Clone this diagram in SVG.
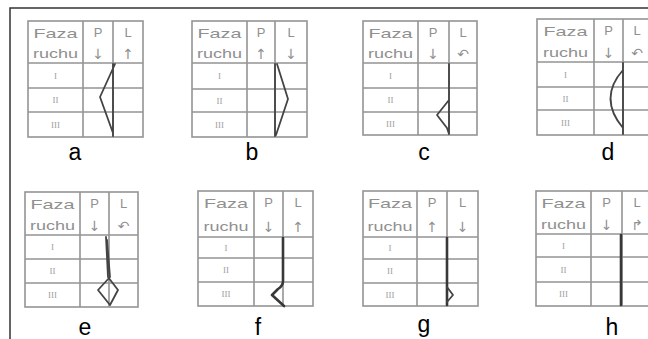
<svg xmlns="http://www.w3.org/2000/svg" width="648" height="339" viewBox="0 0 648 339">
<style>
.grid{fill:none;stroke:#949494;stroke-width:1.6}
.hd{font-family:"Liberation Sans",Arial,sans-serif;font-size:13px;fill:#909090;text-anchor:middle}
.ar{font-family:"DejaVu Sans",sans-serif;font-size:14px;fill:#909090;text-anchor:middle}
.rn{font-family:"Liberation Serif",serif;font-size:9px;fill:#a0a0a0;text-anchor:middle}
.lb{font-family:"Liberation Sans",Arial,sans-serif;font-size:23px;fill:#000;text-anchor:middle}
.tr{fill:none;stroke:#444;stroke-width:1.8;stroke-linejoin:round;stroke-linecap:round}
.trk{fill:none;stroke:#383838;stroke-width:2.6;stroke-linejoin:round;stroke-linecap:round}
</style>
<rect x="0" y="0" width="648" height="339" fill="#fff"/>
<g id="frame"><path d="M10,339 L10,8 L648,8" fill="none" stroke="#333" stroke-width="1.5"/></g>

<g id="table-a">
<rect class="grid" x="28" y="21" width="115" height="116"/>
<path class="grid" d="M83,21V137M113,21V137M28,63H143M28,88H143M28,112H143"/>
<text class="hd" x="55.5" y="38" textLength="44" lengthAdjust="spacingAndGlyphs">Faza</text>
<text class="hd" x="55.5" y="58" textLength="45" lengthAdjust="spacingAndGlyphs">ruchu</text>
<text class="hd" x="98" y="37">P</text><text class="ar" x="98" y="59">↓</text>
<text class="hd" x="128" y="37">L</text><text class="ar" x="128" y="59">↑</text>
<text class="rn" x="55.5" y="79">I</text><text class="rn" x="55.5" y="103">II</text><text class="rn" x="55.5" y="128">III</text>
<path class="tr" d="M115,64 L100,97 L113,133 M113,64 V136"/>
<text class="lb" x="75" y="160">a</text>
</g>

<g id="table-b">
<rect class="grid" x="192" y="21" width="115" height="116"/>
<path class="grid" d="M247,21V137M275,21V137M192,63H307M192,89H307M192,112H307"/>
<text class="hd" x="219.5" y="38" textLength="44" lengthAdjust="spacingAndGlyphs">Faza</text>
<text class="hd" x="219.5" y="58" textLength="45" lengthAdjust="spacingAndGlyphs">ruchu</text>
<text class="hd" x="261" y="37">P</text><text class="ar" x="261" y="59">↑</text>
<text class="hd" x="291" y="37">L</text><text class="ar" x="291" y="59">↓</text>
<text class="rn" x="219.5" y="79">I</text><text class="rn" x="219.5" y="104">II</text><text class="rn" x="219.5" y="128">III</text>
<path class="tr" d="M277,64 L288,99 L276,135 M275,64 V136"/>
<text class="lb" x="252" y="160">b</text>
</g>

<g id="table-c">
<rect class="grid" x="363" y="21" width="114" height="114"/>
<path class="grid" d="M418,21V135M449,21V135M363,63H477M363,88H477M363,112H477"/>
<text class="hd" x="390.5" y="38" textLength="44" lengthAdjust="spacingAndGlyphs">Faza</text>
<text class="hd" x="390.5" y="58" textLength="45" lengthAdjust="spacingAndGlyphs">ruchu</text>
<text class="hd" x="433" y="37">P</text><text class="ar" x="433" y="59">↓</text>
<text class="hd" x="463" y="37">L</text><text class="ar" x="463" y="59">↶</text>
<text class="rn" x="390.5" y="79">I</text><text class="rn" x="390.5" y="103">II</text><text class="rn" x="390.5" y="127">III</text>
<path class="tr" d="M449,64 V100 L437,115 L447,128 L449,134 M449,100 V134"/>
<text class="lb" x="424" y="160">c</text>
</g>

<g id="table-d">
<rect class="grid" x="537" y="19" width="115" height="116"/>
<path class="grid" d="M594,19V135M623,19V135M537,62H652M537,87H652M537,110H652"/>
<text class="hd" x="565.5" y="36" textLength="44" lengthAdjust="spacingAndGlyphs">Faza</text>
<text class="hd" x="565.5" y="57" textLength="45" lengthAdjust="spacingAndGlyphs">ruchu</text>
<text class="hd" x="608.5" y="35">P</text><text class="ar" x="608.5" y="58">↓</text>
<text class="hd" x="637" y="35">L</text><text class="ar" x="637" y="58">↶</text>
<text class="rn" x="565.5" y="78">I</text><text class="rn" x="565.5" y="102">II</text><text class="rn" x="565.5" y="126">III</text>
<path class="tr" d="M623,70 Q598,98 623,128 M623,63 V134"/>
<text class="lb" x="608" y="160">d</text>
</g>

<g id="table-e">
<rect class="grid" x="25" y="192" width="113" height="115"/>
<path class="grid" d="M80,192V307M109,192V307M25,235H138M25,259H138M25,283H138"/>
<text class="hd" x="52.5" y="209" textLength="44" lengthAdjust="spacingAndGlyphs">Faza</text>
<text class="hd" x="52.5" y="230" textLength="45" lengthAdjust="spacingAndGlyphs">ruchu</text>
<text class="hd" x="94.5" y="208">P</text><text class="ar" x="94.5" y="231">↓</text>
<text class="hd" x="123.5" y="208">L</text><text class="ar" x="123.5" y="231">↶</text>
<text class="rn" x="52.5" y="250">I</text><text class="rn" x="52.5" y="274">II</text><text class="rn" x="52.5" y="298">III</text>
<path class="tr" d="M106,237 L108,277 M107,240 L110,277 L98,290 L110,305 L118,290 L108,277"/>
<text class="lb" x="85" y="335">e</text>
</g>

<g id="table-f">
<rect class="grid" x="198" y="191" width="115" height="115"/>
<path class="grid" d="M254,191V306M283,191V306M198,237H313M198,258H313M198,282H313"/>
<text class="hd" x="226" y="208" textLength="44" lengthAdjust="spacingAndGlyphs">Faza</text>
<text class="hd" x="226" y="231" textLength="45" lengthAdjust="spacingAndGlyphs">ruchu</text>
<text class="hd" x="268.5" y="207">P</text><text class="ar" x="268.5" y="232">↓</text>
<text class="hd" x="298" y="207">L</text><text class="ar" x="298" y="232">↑</text>
<text class="rn" x="226" y="251">I</text><text class="rn" x="226" y="273">II</text><text class="rn" x="226" y="297">III</text>
<path class="trk" d="M283,238 V281 Q283,286 278,289 L272,295 L284,306"/>
<text class="lb" x="258" y="335">f</text>
</g>

<g id="table-g">
<rect class="grid" x="363" y="191" width="115" height="115"/>
<path class="grid" d="M417,191V306M447,191V306M363,237H478M363,259H478M363,283H478"/>
<text class="hd" x="390" y="208" textLength="44" lengthAdjust="spacingAndGlyphs">Faza</text>
<text class="hd" x="390" y="231" textLength="45" lengthAdjust="spacingAndGlyphs">ruchu</text>
<text class="hd" x="432" y="207">P</text><text class="ar" x="432" y="232">↑</text>
<text class="hd" x="462.5" y="207">L</text><text class="ar" x="462.5" y="232">↓</text>
<text class="rn" x="390" y="251">I</text><text class="rn" x="390" y="274">II</text><text class="rn" x="390" y="298">III</text>
<path class="trk" d="M447,238 V305"/>
<path class="tr" d="M447,287 L453,295 L447,302"/>
<text class="lb" x="424" y="332">g</text>
</g>

<g id="table-h">
<rect class="grid" x="536" y="191" width="116" height="115"/>
<path class="grid" d="M591,191V306M622,191V306M536,234H652M536,257H652M536,282H652"/>
<text class="hd" x="563.5" y="208" textLength="44" lengthAdjust="spacingAndGlyphs">Faza</text>
<text class="hd" x="563.5" y="229" textLength="45" lengthAdjust="spacingAndGlyphs">ruchu</text>
<text class="hd" x="606.5" y="207">P</text><text class="ar" x="606.5" y="230">↓</text>
<text class="hd" x="637" y="207">L</text><text class="ar" x="637" y="230">↱</text>
<text class="rn" x="563.5" y="249">I</text><text class="rn" x="563.5" y="273">II</text><text class="rn" x="563.5" y="297">III</text>
<path class="trk" d="M621,235 V305"/>
<text class="lb" x="612" y="335">h</text>
</g>
</svg>
